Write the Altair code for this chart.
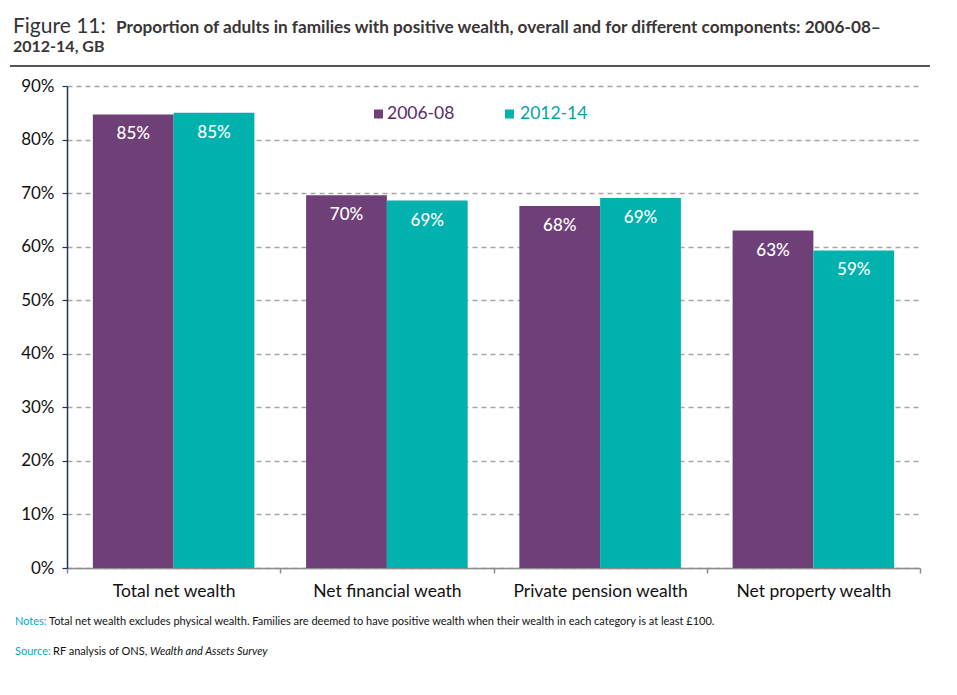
import altair as alt
import pandas as pd

categories = ["Total net wealth", "Net financial weath", "Private pension wealth", "Net property wealth"]
periods = ["2006-08", "2012-14"]
values_2006_08 = [84.7, 69.6, 67.6, 63.0]
values_2012_14 = [85.0, 68.6, 69.1, 59.3]
y_ticks = [0, 10, 20, 30, 40, 50, 60, 70, 80, 90]

rows = []
for c, a, b in zip(categories, values_2006_08, values_2012_14):
    rows.append({"category": c, "period": periods[0], "value": a})
    rows.append({"category": c, "period": periods[1], "value": b})
df = pd.DataFrame(rows)

FONT = "Lato"
PURPLE = "#6f3f78"
TEAL = "#00b1ae"
color_scale = alt.Scale(domain=periods, range=[PURPLE, TEAL])

x = alt.X(
    "category:N", sort=categories,
    scale=alt.Scale(paddingInner=0, paddingOuter=0),
    axis=alt.Axis(title=None, labelFontSize=17.5, labelColor="#111111", labelFont=FONT,
                  labelPadding=9, labelAngle=0, domainColor="#8c8c8c", domainWidth=1.5,
                  tickColor="#8c8c8c", tickSize=5, tickWidth=1.5, tickBand="extent", grid=False),
)
xo = alt.XOffset("period:N", sort=periods, scale=alt.Scale(paddingInner=0, paddingOuter=0.32))
y = alt.Y(
    "value:Q", scale=alt.Scale(domain=[0, 90], nice=False),
    axis=alt.Axis(title=None, values=y_ticks, labelExpr="datum.value + '%'",
                  labelFontSize=17, labelColor="#111111", labelFont=FONT, labelPadding=8,
                  domainColor="#1d3557", domainWidth=1.5, tickColor="#1d3557", tickSize=5,
                  tickWidth=1.2, grid=True, gridDash=[5, 4], gridColor="#a6a6a6", gridWidth=1.3),
)
color = alt.Color("period:N", scale=color_scale, legend=None)

base = alt.Chart(df)
bars = base.mark_bar(opacity=1).encode(x=x, xOffset=xo, y=y, color=color)
labels = base.transform_calculate(
    label="format(datum.value, '.0f') + '%'"
).mark_text(dy=20, color="white", fontSize=17, font=FONT, fontWeight=500, baseline="middle").encode(
    x=x, xOffset=xo, y=y, text="label:N"
)


def txt(text, px, py, size, color="#111111", weight="normal", style="normal", baseline="alphabetic"):
    return alt.Chart(alt.Data(values=[{}])).mark_text(
        text=text, align="left", baseline=baseline, fontSize=size, font=FONT,
        fontWeight=weight, fontStyle=style, color=color,
    ).encode(x=alt.value(px), y=alt.value(py))


title_layers = [
    txt("Figure 11:", -54, -53, 21, color="#333333"),
    txt("Proportion of adults in families with positive wealth, overall and for different components: 2006-08–",
        49, -53, 17.2, color="#3b3536", weight="bold"),
    txt("2012-14, GB", -54, -34, 16, color="#3b3536", weight="bold"),
    alt.Chart(alt.Data(values=[{}])).mark_rule(color="#555555", strokeWidth=2).encode(
        x=alt.value(-57), x2=alt.value(863), y=alt.value(-20)),
]

leg_df = pd.DataFrame({"period": periods})
legend_layers = []
for p, sx, tx, tc in zip(periods, [311.5, 442.5], [320, 453], ["#5b2c66", "#00a5a3"]):
    d = leg_df[leg_df["period"] == p]
    legend_layers.append(
        alt.Chart(d).mark_square(size=81, opacity=1).encode(
            x=alt.value(sx), y=alt.value(28), color=color)
    )
    legend_layers.append(txt(p, tx, 28, 17.5, color=tc, baseline="middle"))

note_layers = [
    txt("Notes:", -52, 536, 11, color="#00aebf", baseline="middle"),
    txt("Total net wealth excludes physical wealth. Families are deemed to have positive wealth when their wealth in each category is at least £100.",
        -18, 536, 11, baseline="middle"),
    txt("Source:", -52, 566, 11, color="#00aebf", baseline="middle"),
    txt("RF analysis of ONS,", -14, 566, 11, baseline="middle"),
    txt("Wealth and Assets Survey", 83, 566, 11, style="italic", baseline="middle"),
]

chart = alt.layer(bars, labels, *title_layers, *legend_layers, *note_layers).properties(
    width=853, height=482,
    padding={"left": 59, "top": 78, "right": 29, "bottom": 119},
    autosize=alt.AutoSizeParams(type="none"),
).configure_view(stroke=None)

chart.save("out.html", embed_options={"renderer": "svg", "actions": False})
